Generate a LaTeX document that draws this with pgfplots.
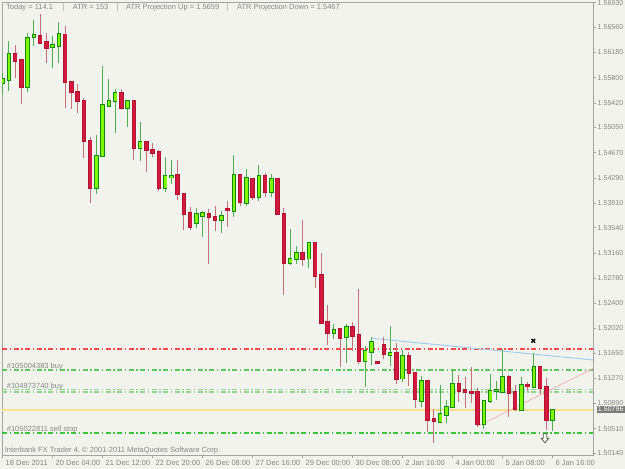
\documentclass[border=0pt]{standalone}
\usepackage{pgfplots}
\usepackage{pgfplotstable}
\pgfplotsset{compat=1.18}
\usepackage{fontspec}
\setmainfont{Liberation Sans}
\definecolor{bg}{HTML}{F3F3EE}
\definecolor{tgray}{HTML}{858585}
\definecolor{framec}{HTML}{A4A4A4}
\definecolor{gfill}{HTML}{7FF800}
\definecolor{gline}{HTML}{118A11}
\definecolor{gwick}{HTML}{4FAE4F}
\definecolor{rfill}{HTML}{D21A3E}
\definecolor{rline}{HTML}{B01232}
\definecolor{rwick}{HTML}{C66E7A}
\definecolor{redl}{RGB}{255,72,72}
\definecolor{buyl}{HTML}{5CC85C}
\definecolor{buyl2}{HTML}{8ED68E}
\definecolor{sstop}{RGB}{60,196,60}
\definecolor{yell}{HTML}{FFE08A}
\definecolor{bluel}{HTML}{9CCBF0}
\definecolor{pinkl}{HTML}{F4B4B4}
\definecolor{boxg}{HTML}{7A7A7A}

\pgfplotstableread{
x o h l c
0 1.55716 1.55875 1.55539 1.55776
1 1.55765 1.56358 1.55600 1.56157
4 1.55664 1.56478 1.55589 1.56403
5 1.56409 1.56670 1.56278 1.56439
8 1.56258 1.56429 1.55942 1.56293
9 1.56282 1.56640 1.56017 1.56454
15 1.54138 1.54932 1.54043 1.54620
16 1.54625 1.55976 1.54620 1.55389
17 1.55374 1.55781 1.55365 1.55453
18 1.55453 1.55625 1.54971 1.55565
20 1.55339 1.55464 1.55062 1.55449
22 1.54736 1.55128 1.54549 1.54827
26 1.54133 1.54609 1.54082 1.54319
27 1.54304 1.54560 1.54194 1.54314
31 1.53615 1.53832 1.53531 1.53742
32 1.53711 1.53787 1.53395 1.53757
35 1.53660 1.53796 1.53464 1.53711
37 1.53791 1.54635 1.53705 1.54334
39 1.53916 1.54420 1.53867 1.54284
41 1.54007 1.54484 1.53942 1.54319
43 1.54082 1.54349 1.53998 1.54273
46 1.53003 1.53520 1.52977 1.53072
47 1.53063 1.53264 1.52993 1.53163
49 1.53075 1.53329 1.52928 1.53305
53 1.51948 1.52088 1.51858 1.51998
55 1.51888 1.52088 1.51496 1.52048
58 1.51535 1.51757 1.51143 1.51681
59 1.51671 1.51888 1.51470 1.51813
62 1.51626 1.52058 1.51455 1.51656
64 1.51267 1.51697 1.51219 1.51606
67 1.50933 1.51305 1.50833 1.51229
70 1.50616 1.51169 1.50592 1.50728
71 1.50717 1.50943 1.50601 1.50842
72 1.50842 1.51406 1.50818 1.51180
77 1.50581 1.50943 1.50501 1.50933
78 1.50928 1.51330 1.50902 1.51083
79 1.51083 1.51234 1.50943 1.51098
80 1.51068 1.51707 1.51053 1.51285
83 1.50792 1.51294 1.50785 1.51165
85 1.51143 1.51647 1.51135 1.51436
88 1.50642 1.50803 1.50480 1.50796
}\bull

\pgfplotstableread{
x o h l c
2 1.56157 1.56293 1.55791 1.56056
3 1.56067 1.56077 1.55404 1.55664
6 1.56429 1.56760 1.56320 1.56328
7 1.56334 1.56478 1.56017 1.56243
10 1.56454 1.56584 1.55339 1.55731
11 1.55731 1.55731 1.55328 1.55580
12 1.55580 1.55705 1.55273 1.55449
13 1.55453 1.55490 1.54585 1.54846
14 1.54851 1.54911 1.53916 1.54138
19 1.55565 1.55625 1.55313 1.55339
21 1.55449 1.55464 1.54560 1.54736
23 1.54827 1.54827 1.54374 1.54711
24 1.54711 1.54821 1.54600 1.54670
25 1.54685 1.54711 1.54097 1.54133
28 1.54334 1.54560 1.53957 1.54043
29 1.54047 1.54060 1.53505 1.53742
30 1.53757 1.53856 1.53505 1.53546
33 1.53742 1.53826 1.52993 1.53704
34 1.53705 1.53871 1.53494 1.53656
36 1.53826 1.53942 1.53546 1.53802
38 1.54334 1.54334 1.53867 1.53931
40 1.54273 1.54284 1.53957 1.54007
42 1.54319 1.54368 1.53998 1.54082
44 1.54269 1.54269 1.53746 1.53746
45 1.53746 1.53832 1.52525 1.53003
48 1.53163 1.53656 1.52962 1.53072
50 1.53305 1.53305 1.52626 1.52812
51 1.52827 1.53163 1.52108 1.52108
52 1.52119 1.52375 1.51772 1.51957
54 1.52008 1.52033 1.51436 1.51873
56 1.52039 1.52123 1.51686 1.51912
57 1.51918 1.52611 1.51486 1.51535
60 1.51520 1.51525 1.51496 1.51501
61 1.51767 1.51888 1.51556 1.51641
63 1.51656 1.51798 1.51184 1.51264
65 1.51606 1.51671 1.51159 1.51357
66 1.51357 1.51357 1.50822 1.50958
68 1.51234 1.51234 1.50465 1.50642
69 1.50652 1.50803 1.50291 1.50627
73 1.51180 1.51320 1.50917 1.51083
74 1.51094 1.51294 1.50818 1.51064
75 1.51068 1.51445 1.50893 1.51053
76 1.51068 1.51119 1.50541 1.50581
81 1.51285 1.51320 1.50682 1.51053
82 1.51068 1.51169 1.50782 1.50803
84 1.51165 1.51219 1.51079 1.51150
86 1.51436 1.51445 1.51033 1.51128
87 1.51143 1.51270 1.50491 1.50642
}\bear

\pgfdeclareplotmark{dnarrow}{%
  \pgfpathmoveto{\pgfpoint{-1.7pt}{4.5pt}}%
  \pgfpathlineto{\pgfpoint{1.7pt}{4.5pt}}%
  \pgfpathlineto{\pgfpoint{1.7pt}{0pt}}%
  \pgfpathlineto{\pgfpoint{3.8pt}{0pt}}%
  \pgfpathlineto{\pgfpoint{0pt}{-4.5pt}}%
  \pgfpathlineto{\pgfpoint{-3.8pt}{0pt}}%
  \pgfpathlineto{\pgfpoint{-1.7pt}{0pt}}%
  \pgfpathclose
  \pgfusepathqfillstroke}

\newcommand{\sm}{\fontsize{7.5}{9}\selectfont}
\pgfplotsset{
  candle/.style n args={2}{draw=none, mark=none, forget plot,
    error bars/.cd, y dir=both, y explicit, error mark=none,
    error bar style={draw=#1, line width=#2, solid}},
}

\begin{document}
\begin{tikzpicture}
\path[use as bounding box, fill=bg] (-2pt,-14pt) rectangle (623pt,455pt);
\begin{axis}[
  scale only axis, width=591.3pt, height=453pt,
  xmin=-0.11, xmax=94.5, ymin=1.50114, ymax=1.56941,
  axis line style={draw=framec, line width=0.9pt},
  tick align=outside, major tick length=3pt,
  every tick/.style={draw=framec, line width=0.7pt},
  xtick pos=bottom, ytick pos=right, yticklabel pos=right,
  xtick={0,8,...,88},
  xticklabels={18 Dec 2011,20 Dec 04:00,21 Dec 12:00,22 Dec 20:00,26 Dec 08:00,27 Dec 16:00,29 Dec 00:00,30 Dec 08:00,2 Jan 16:00,4 Jan 00:00,5 Jan 08:00,6 Jan 16:00},
  ytick={1.50140,1.50510,1.50890,1.51270,1.51650,1.52020,1.52400,1.52780,1.53160,1.53540,1.53910,1.54290,1.54670,1.55050,1.55420,1.55800,1.56180,1.56560,1.56930},
  yticklabels={1.50140,1.50510,1.50890,1.51270,1.51650,1.52020,1.52400,1.52780,1.53160,1.53540,1.53910,1.54290,1.54670,1.55050,1.55420,1.55800,1.56180,1.56560,1.56930},
  xticklabel style={font=\sm, text=tgray, anchor=base west, yshift=-8pt, xshift=-0.5pt},
  yticklabel style={font=\fontsize{7.1}{9}\selectfont, text=tgray, anchor=west, xshift=-2.2pt},
]
% horizontal order / price lines
\addplot[color=redl, line width=1.3pt, mark=none, dash pattern={on 5pt off 2.5pt on 1.5pt off 2.5pt}] coordinates {(-0.11,1.51710) (94.5,1.51710)};
\addplot[color=buyl, line width=1.1pt, mark=none, dash pattern={on 5pt off 2.5pt on 1.5pt off 2.5pt}] coordinates {(-0.11,1.51395) (94.5,1.51395)};
\addplot[color=buyl2, line width=1.1pt, mark=none, dash pattern={on 5pt off 2.5pt on 1.5pt off 2.5pt}] coordinates {(-0.11,1.51104) (94.5,1.51104)};
\addplot[color=buyl2, line width=1.1pt, mark=none, dash pattern={on 5pt off 2.5pt on 1.5pt off 2.5pt}] coordinates {(-0.11,1.51064) (94.5,1.51064)};
\addplot[color=yell, line width=1.4pt, mark=none] coordinates {(-0.11,1.50792) (94.5,1.50792)};
\addplot[color=sstop, line width=1.4pt, mark=none, dash pattern={on 5pt off 2.5pt on 1.5pt off 2.5pt}] coordinates {(-0.11,1.50447) (94.5,1.50447)};
% trend lines
\addplot[color=bluel, line width=0.9pt, mark=none] coordinates {(59.04,1.51873) (94.5,1.51546)};
\addplot[color=pinkl, line width=0.8pt, mark=none] coordinates {(76.1,1.50551) (94.5,1.51421)};
% wicks
\addplot[candle={gwick}{1pt}]
  table[x=x, y expr={(\thisrow{h}+\thisrow{l})/2}, y error expr={(\thisrow{h}-\thisrow{l})/2}] {\bull};
\addplot[candle={rwick}{1pt}]
  table[x=x, y expr={(\thisrow{h}+\thisrow{l})/2}, y error expr={(\thisrow{h}-\thisrow{l})/2}] {\bear};
% bodies: outline
\addplot[candle={gline}{4.6pt}]
  table[x=x, y expr={(\thisrow{o}+\thisrow{c})/2}, y error expr={abs(\thisrow{o}-\thisrow{c})/2+0.000136}] {\bull};
\addplot[candle={rline}{4.6pt}]
  table[x=x, y expr={(\thisrow{o}+\thisrow{c})/2}, y error expr={abs(\thisrow{o}-\thisrow{c})/2+0.000136}] {\bear};
% bodies: fill
\addplot[candle={gfill}{2.8pt}]
  table[x=x, y expr={(\thisrow{o}+\thisrow{c})/2}, y error expr={abs(\thisrow{o}-\thisrow{c})/2}] {\bull};
\addplot[candle={rfill}{2.8pt}]
  table[x=x, y expr={(\thisrow{o}+\thisrow{c})/2}, y error expr={abs(\thisrow{o}-\thisrow{c})/2}] {\bear};
% markers
\addplot[only marks, mark=x, mark size=2.6pt, line width=1.3pt, black] coordinates {(84.9,1.51835)};
\addplot[only marks, mark=dnarrow, draw=black!65, fill=white, line width=0.8pt] coordinates {(86.77,1.50366)};
\end{axis}
% texts
\begin{scope}[every node/.style={inner sep=0pt, font=\sm, text=tgray}]
\node[anchor=base west] at (4pt,445pt) {Today = 114.1};
\node[anchor=base west] at (70.7pt,445pt) {ATR = 153};
\node[anchor=base west] at (124pt,445pt) {ATR Projection Up = 1.5659};
\node[anchor=base west] at (235pt,445pt) {ATR Projection Down = 1.5467};
\node[anchor=base west] at (4.7pt,86.7pt) {\#105004383 buy};
\node[anchor=base west] at (4.7pt,66pt) {\#104973740 buy};
\node[anchor=base west] at (4.7pt,23.7pt) {\#105022811 sell stop};
\node[anchor=base west] at (2.7pt,2.7pt) {Interbank FX Trader 4, © 2001-2011 MetaQuotes Software Corp.};
\end{scope}
\draw[black!25, line width=0.8pt] (61.3pt,444pt) -- (61.3pt,452pt) (115.3pt,444pt) -- (115.3pt,452pt) (225.3pt,444pt) -- (225.3pt,452pt);
\node[anchor=west, fill=boxg, text=white, inner xsep=1pt, inner ysep=0.6pt, font=\fontsize{7.1}{9}\selectfont] at (594.7pt,45.6pt) {1.50796};
\end{tikzpicture}
\end{document}
